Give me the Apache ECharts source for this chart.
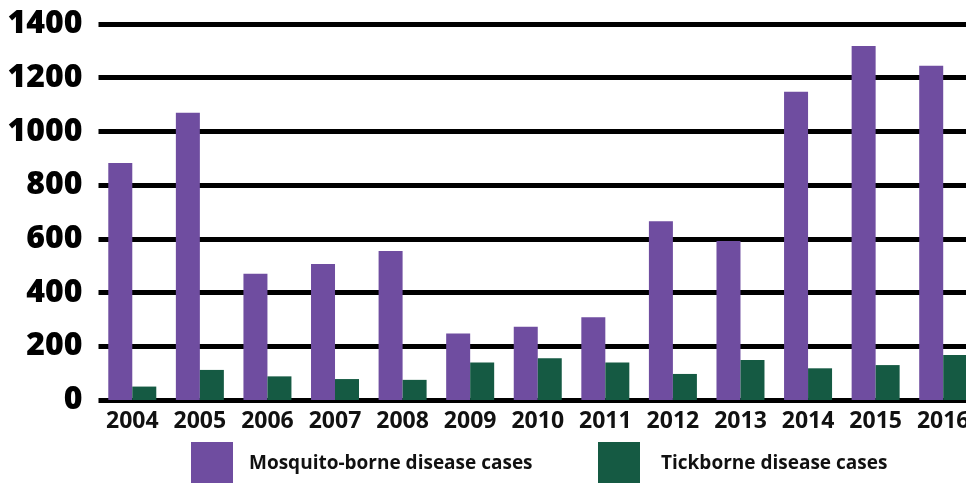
<!DOCTYPE html>
<html><head><meta charset="utf-8">
<script src="https://cdn.jsdelivr.net/npm/echarts@6/dist/echarts.min.js"></script>
<style>html,body{margin:0;padding:0;background:#fff;overflow:hidden}#c{width:977px;height:483px}</style>
</head><body><div id="c"></div>
<script>
const years = ['2004','2005','2006','2007','2008','2009','2010','2011','2012','2013','2014','2015','2016'];
const mosquito = [882, 1070, 470, 506, 555, 248, 273, 308, 666, 592, 1148, 1318, 1245];
const tick = [50, 112, 88, 78, 75, 140, 155, 140, 97, 149, 118, 130, 168];
const yTicks = [0, 200, 400, 600, 800, 1000, 1200, 1400];
const seriesNames = ['Mosquito-borne disease cases', 'Tickborne disease cases'];

const legendText = {fontFamily: 'Open Sans', fontWeight: 'bold', fontSize: 19, color: '#111'};
const chart = echarts.init(document.getElementById('c'), null, {renderer:'canvas'});
chart.setOption({
  backgroundColor: '#ffffff',
  animation: false,
  grid: {left: 98.5, right: 0, top: 24, bottom: 83, containLabel: false},
  legend: [
    {left: 191, top: 442, padding: 0, itemWidth: 42, itemHeight: 44, icon: 'rect',
     textStyle: Object.assign({padding: [0,0,0,11]}, legendText), data: [seriesNames[0]]},
    {left: 598, top: 442, padding: 0, itemWidth: 42, itemHeight: 44, icon: 'rect',
     textStyle: Object.assign({padding: [0,0,0,16]}, legendText), data: [seriesNames[1]]}
  ],
  xAxis: {
    type: 'category', data: years,
    axisLine: {show: false}, axisTick: {show: false},
    axisLabel: {interval: 0, hideOverlap: false, fontFamily: 'Open Sans', fontWeight: 'bold', fontSize: 23, color: '#111', margin: 10}
  },
  yAxis: {
    type: 'value', min: yTicks[0], max: yTicks[yTicks.length-1], interval: 200,
    axisLine: {show: false}, axisTick: {show: false},
    axisLabel: {fontFamily: 'Open Sans', fontWeight: 800, fontSize: 32, color: '#000', margin: 16,
      formatter: v => String(v)},
    splitLine: {lineStyle: {color: '#000', width: 5}}
  },
  series: [
    {name: seriesNames[0], type: 'bar', data: mosquito, barWidth: 24, barGap: '0%',
     itemStyle: {color: '#6f4da0'}},
    {name: seriesNames[1], type: 'bar', data: tick, barWidth: 24, barGap: '0%',
     itemStyle: {color: '#155a43'}}
  ]
});
</script></body></html>
